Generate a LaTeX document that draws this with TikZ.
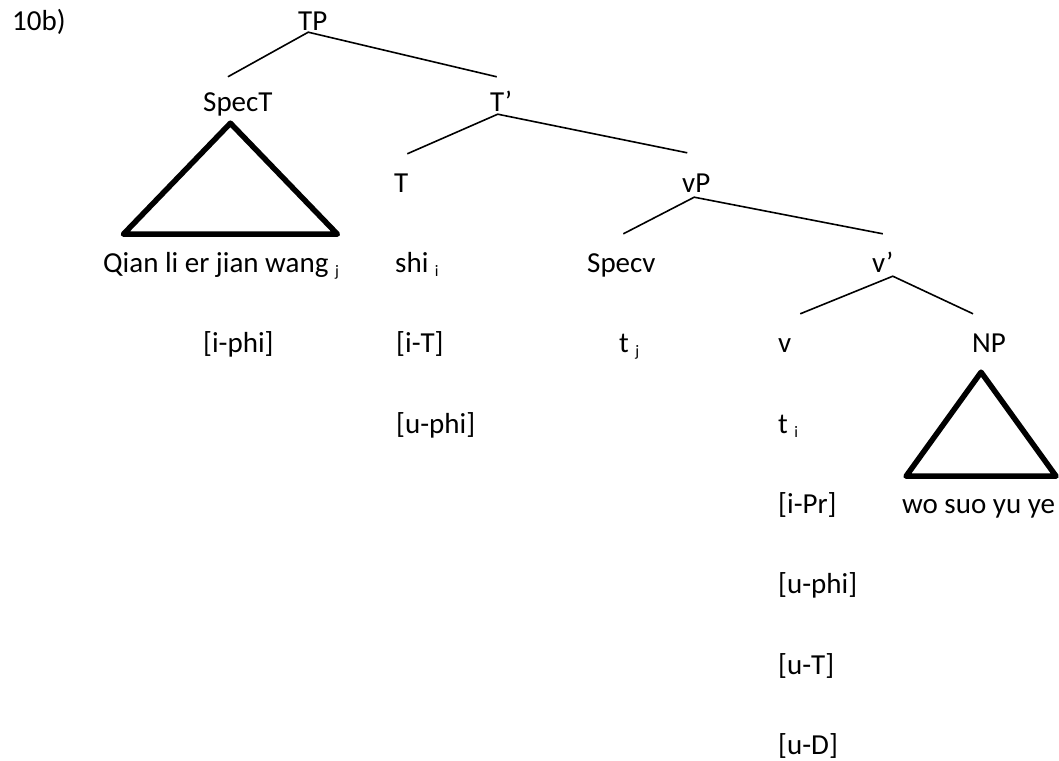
\documentclass[tikz,border=0pt]{standalone}
\usepackage{fontspec}
\setmainfont{Carlito}
\newcommand{\sbs}[1]{\raisebox{-4pt}{\fontsize{16}{16}\selectfont #1}}

\begin{document}
\begin{tikzpicture}[
        x=1pt, y=-1pt,
        every node/.style={anchor=base west, inner sep=0pt, text height=19pt, text depth=0pt, font=\fontsize{29}{35}\selectfont},
        edgeBranch/.style={draw, line width=1.6pt},
        triangleThick/.style={draw, line width=5.5pt, line join=round}
        ]
        \useasboundingbox (0,0) rectangle (1059,760);

        \node (label) at (12,31) {10b)};
        \node (TP) at (298,31) {TP};
        \node (SpecT) at (203,111.5) {SpecT};
        \node (Tbar) at (490,111.5) {T’};
        \node (T) at (394,192) {T};
        \node (vP) at (682,192) {vP};
        \node (Qian) at (103,272) {Qian li er jian wang \sbs{j}};
        \node (shi) at (395,272) {shi \sbs{i}};
        \node (Specv) at (587,272) {Specv};
        \node (vbar) at (872,272) {v’};
        \node (iphi) at (203,352.5) {[i-phi]};
        \node (iT) at (396,352.5) {[i-T]};
        \node (tj) at (619,352.5) {t \sbs{j}};
        \node (v) at (778,352.5) {v};
        \node (NP) at (972,352.5) {NP};
        \node (uphiT) at (396,433) {[u-phi]};
        \node (ti) at (778,433) {t \sbs{i}};
        \node (iPr) at (778,513) {[i-Pr]};
        \node (wosuo) at (902,513) {wo suo yu ye};
        \node (uphiv) at (778,593.5) {[u-phi]};
        \node (uT) at (778,674) {[u-T]};
        \node (uD) at (778,754) {[u-D]};

        % ramos
        \draw[edgeBranch] ([xshift=-10pt,yshift=15.5pt]SpecT.north) -- ([xshift=-4.5pt,yshift=-1pt]TP.south) -- ([xshift=-4.5pt,yshift=15.5pt]Tbar.north);
        \draw[edgeBranch] ([xshift=6pt,yshift=19pt]T.north) -- ([xshift=-3.5pt,yshift=-2.5pt]Tbar.south) -- ([xshift=-9pt,yshift=20pt]vP.north);
        \draw[edgeBranch] ([xshift=2pt,yshift=19pt]Specv.north) -- ([xshift=-2pt,yshift=-5pt]vP.south) -- ([yshift=19pt]vbar.north);
        \draw[edgeBranch] ([xshift=15.5pt,yshift=19.5pt]v.north) -- ([xshift=10pt,yshift=-4pt]vbar.south) -- ([xshift=-16pt,yshift=19.5pt]NP.north);

        % triangulos
        \draw[triangleThick] ([xshift=-7.5pt,yshift=-11.5pt]SpecT.south) -- ++(-107,111) -- ++(214,0) -- cycle;
        \draw[triangleThick] ([xshift=-8pt,yshift=-19.5pt]NP.south) -- ++(-75,104) -- ++(150,0) -- cycle;
    \end{tikzpicture}
\end{document}
